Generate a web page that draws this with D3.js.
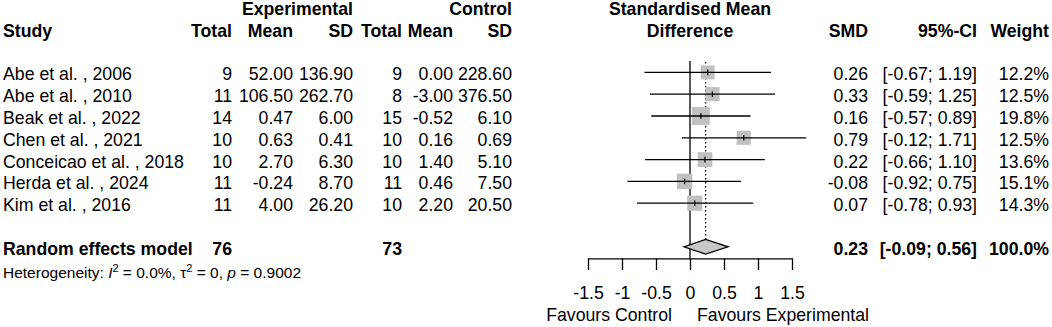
<!DOCTYPE html>
<html><head><meta charset="utf-8">
<script src="https://cdn.jsdelivr.net/npm/d3@7"></script>
<style>
body{margin:0;background:#fff}
svg{display:block}
text{font-family:"Liberation Sans",Arial,Helvetica,sans-serif;fill:#000}
</style>
</head><body>
<svg id="chart" width="1052" height="327"></svg>
<script>
const studies = ["Abe et al. , 2006","Abe et al. , 2010","Beak et al. , 2022","Chen et al. , 2021","Conceicao et al. , 2018","Herda et al. , 2024","Kim et al. , 2016"];
const expTotal = [9,11,14,10,10,11,11];
const expMean = [52.00,106.50,0.47,0.63,2.70,-0.24,4.00];
const expSD = [136.90,262.70,6.00,0.41,6.30,8.70,26.20];
const ctrlTotal = [9,8,15,10,10,11,10];
const ctrlMean = [0.00,-3.00,-0.52,0.16,1.40,0.46,2.20];
const ctrlSD = [228.60,376.50,6.10,0.69,5.10,7.50,20.50];
const smd = [0.26,0.33,0.16,0.79,0.22,-0.08,0.07];
const ciLower = [-0.67,-0.59,-0.57,-0.12,-0.66,-0.92,-0.78];
const ciUpper = [1.19,1.25,0.89,1.71,1.10,0.75,0.93];
const weights = [12.2,12.5,19.8,12.5,13.6,15.1,14.3];
const pooledSMD = 0.23, pooledLower = -0.09, pooledUpper = 0.56, pooledWeight = 100.0;
const pooledExpTotal = 76, pooledCtrlTotal = 73;
const tickValues = [-1.5,-1,-0.5,0,0.5,1,1.5];
const tickLabels = ["-1.5","-1","-0.5","0","0.5","1","1.5"];

const svg = d3.select("#chart");
const FS = 17.7;
const x = d3.scaleLinear().domain([-1.5,1.5]).range([588,792]);
const y = d3.scaleLinear().domain([0,1]).range([72.4,94.2]);
const BL = 8; // baseline offset

function txt(xp, yp, s, anchor, bold, size){
  return svg.append("text").attr("x",xp).attr("y",yp)
    .attr("text-anchor",anchor||"start")
    .attr("font-weight",bold?"bold":"normal")
    .attr("font-size",size||FS).text(s);
}
const f2 = v => v.toFixed(2);

// header
const h1 = y(-3)+BL, h2 = y(-2)+BL;
txt(3,h2,"Study","start",true);
txt(353,h1,"Experimental","end",true);
txt(232,h2,"Total","end",true);
txt(293,h2,"Mean","end",true);
txt(353,h2,"SD","end",true);
txt(512,h1,"Control","end",true);
txt(402,h2,"Total","end",true);
txt(453,h2,"Mean","end",true);
txt(512,h2,"SD","end",true);
txt(x(0),h1,"Standardised Mean","middle",true);
txt(x(0),h2,"Difference","middle",true);
txt(868,h2,"SMD","end",true);
txt(977,h2,"95%-CI","end",true);
txt(1049,h2,"Weight","end",true);

// study rows
studies.forEach((s,i)=>{
  const b = y(i)+BL;
  txt(3,b,s,"start");
  txt(232,b,expTotal[i],"end");
  txt(293,b,f2(expMean[i]),"end");
  txt(353,b,f2(expSD[i]),"end");
  txt(402,b,ctrlTotal[i],"end");
  txt(453,b,f2(ctrlMean[i]),"end");
  txt(512,b,f2(ctrlSD[i]),"end");
  txt(868,b,f2(smd[i]),"end");
  txt(977,b,"["+f2(ciLower[i])+"; "+f2(ciUpper[i])+"]","end");
  txt(1049,b,weights[i].toFixed(1)+"%","end");
});

// pooled row
const pr = 8, pb = y(pr)+BL;
txt(3,pb,"Random effects model","start",true);
txt(232,pb,pooledExpTotal,"end",true);
txt(402,pb,pooledCtrlTotal,"end",true);
txt(868,pb,f2(pooledSMD),"end",true);
txt(977,pb,"["+f2(pooledLower)+"; "+f2(pooledUpper)+"]","end",true);
txt(1049,pb,pooledWeight.toFixed(1)+"%","end",true);

// heterogeneity
const het = svg.append("text").attr("x",3).attr("y",278).attr("font-size",15.5);
het.append("tspan").text("Heterogeneity: ");
het.append("tspan").attr("font-style","italic").text("I");
het.append("tspan").attr("font-size",11).attr("dy",-6).text("2");
het.append("tspan").attr("dy",6).text(" = 0.0%, \u03C4");
het.append("tspan").attr("font-size",11).attr("dy",-6).text("2");
het.append("tspan").attr("dy",6).text(" = 0, ");
het.append("tspan").attr("font-style","italic").text("p");
het.append("tspan").text(" = 0.9002");

// plot
const axisY = 258.3;
// zero line
svg.append("line").attr("x1",x(0)).attr("x2",x(0)).attr("y1",61).attr("y2",axisY)
  .attr("stroke","#000").attr("stroke-width",1.3);
// pooled dotted line
const dh = 7.3;
svg.append("line").attr("x1",x(pooledSMD)).attr("x2",x(pooledSMD)).attr("y1",62).attr("y2",y(pr)-dh)
  .attr("stroke","#000").attr("stroke-width",1.3).attr("stroke-dasharray","1.5,2.5");

studies.forEach((s,i)=>{
  const yc = y(i);
  const side = 4.0*Math.sqrt(weights[i]);
  svg.append("rect").attr("x",x(smd[i])-side/2).attr("y",yc-side/2)
    .attr("width",side).attr("height",side).attr("fill","#c0c0c0");
  svg.append("line").attr("x1",x(ciLower[i])).attr("x2",x(ciUpper[i])).attr("y1",yc).attr("y2",yc)
    .attr("stroke","#000").attr("stroke-width",1.3);
  svg.append("line").attr("x1",x(smd[i])).attr("x2",x(smd[i])).attr("y1",yc-2.8).attr("y2",yc+2.8)
    .attr("stroke","#000").attr("stroke-width",1.3);
});

// diamond
const yd = y(pr);
svg.append("path")
  .attr("d",`M${x(pooledLower)},${yd}L${x(pooledSMD)},${yd-dh}L${x(pooledUpper)},${yd}L${x(pooledSMD)},${yd+dh}Z`)
  .attr("fill","#c8c8c8").attr("stroke","#000").attr("stroke-width",1.3);

// axis
const axis = d3.axisBottom(x).tickValues(tickValues).tickFormat((d,i)=>tickLabels[i])
  .tickSize(11.7).tickSizeOuter(0).tickPadding(16.5);
const ag = svg.append("g").attr("transform",`translate(0,${axisY})`).call(axis);
ag.select(".domain").attr("stroke","#000").attr("stroke-width",1.3);
ag.selectAll(".tick line").attr("stroke","#000").attr("stroke-width",1.3);
ag.selectAll(".tick text").attr("font-size",FS).attr("font-family",'"Liberation Sans",Arial,sans-serif').attr("fill","#000");

txt(x(0)-18,320.7,"Favours Control","end");
txt(x(0)+7,320.7,"Favours Experimental","start");
</script>
</body></html>
